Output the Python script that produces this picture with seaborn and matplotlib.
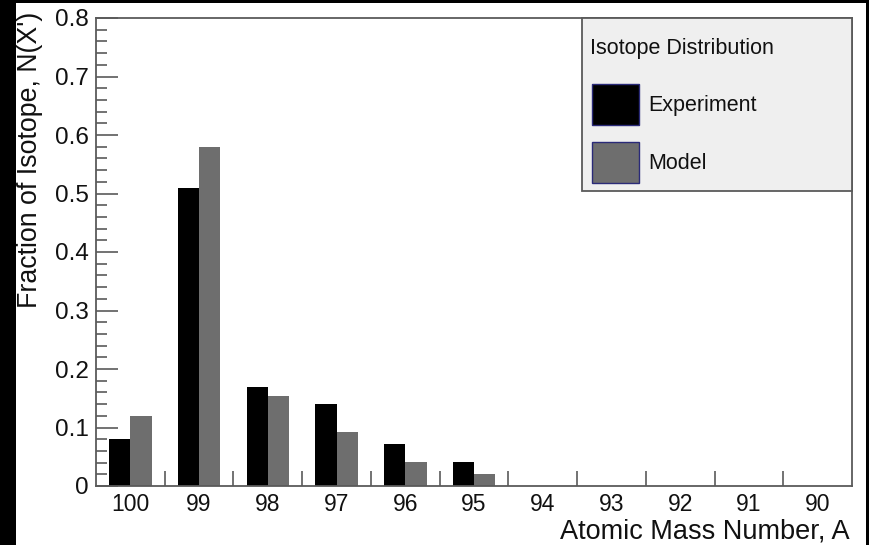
import matplotlib
matplotlib.use("Agg")
import matplotlib.pyplot as plt
import matplotlib.ticker as mticker
from matplotlib.patches import Patch, Rectangle
import seaborn as sns
import pandas as pd

# ---- data ----
mass_numbers = ["100", "99", "98", "97", "96", "95", "94", "93", "92", "91", "90"]
experiment = [0.08, 0.51, 0.17, 0.14, 0.072, 0.041, 0, 0, 0, 0, 0]
model = [0.12, 0.58, 0.153, 0.092, 0.041, 0.02, 0, 0, 0, 0, 0]
series_names = ["Experiment", "Model"]
y_ticks = [0, 0.1, 0.2, 0.3, 0.4, 0.5, 0.6, 0.7, 0.8]

df = pd.DataFrame({
    "A": mass_numbers * 2,
    "fraction": experiment + model,
    "series": [series_names[0]] * len(mass_numbers) + [series_names[1]] * len(mass_numbers),
})

sns.set_theme(style="white")
plt.rcParams["font.family"] = ["Liberation Sans", "DejaVu Sans"]

W, H = 869, 545
fig = plt.figure(figsize=(W / 100, H / 100), dpi=100)
fig.patch.set_facecolor("black")

def fx(x):
    return x / W

def fy(y):
    return 1 - y / H

# white canvas inside the black frame
fig.patches.append(Rectangle((fx(16), 0), fx(866) - fx(16), fy(3), transform=fig.transFigure,
                             facecolor="white", edgecolor="none", zorder=-10))

ax = fig.add_axes([fx(96), fy(486), fx(852) - fx(96), fy(18) - fy(486)])
ax.set_facecolor("white")

colors = {"Experiment": "#000000", "Model": "#6e6e6e"}
sns.barplot(data=df, x="A", y="fraction", hue="series", order=mass_numbers,
            hue_order=series_names, palette=colors, width=0.62, saturation=1,
            linewidth=0, ax=ax, legend=False)

ax.set_xlim(-0.5, len(mass_numbers) - 0.5)
ax.set_ylim(0, 0.8)
ax.set_xlabel("")
ax.set_ylabel("")

# spines
for s in ax.spines.values():
    s.set_color("#5a5a5a")
    s.set_linewidth(1.3)

# y ticks
ax.set_yticks(y_ticks)
ax.yaxis.set_major_formatter(mticker.FuncFormatter(lambda v, p: "0" if abs(v) < 1e-9 else f"{v:.1f}"))
ax.yaxis.set_minor_locator(mticker.MultipleLocator(0.02))
ax.tick_params(axis="y", which="major", direction="in", length=16, width=1.2, color="#5a5a5a",
               labelsize=17.5, pad=5, left=True, right=False)
ax.tick_params(axis="y", which="minor", direction="in", length=8, width=1.2, color="#5a5a5a",
               left=True, right=False)

# x ticks: labels at centers, small ticks between categories
ax.tick_params(axis="x", which="major", length=0, labelsize=16.5, pad=5, bottom=True)
ax.xaxis.set_minor_locator(mticker.FixedLocator([i + 0.5 for i in range(len(mass_numbers) - 1)]))
ax.tick_params(axis="x", which="minor", direction="in", length=11, width=1.2, color="#5a5a5a",
               bottom=True, top=False)
for t in ax.get_xticklabels() + ax.get_yticklabels():
    t.set_color("#111111")

# axis titles
fig.text(fx(850), fy(538), "Atomic Mass Number, A", ha="right", va="baseline",
         fontsize=19.5, color="#111111")
fig.text(fx(30), fy(12), "Fraction of Isotope, N(X')", ha="center", va="top",
         rotation=90, fontsize=19.3, color="#111111")

# legend box
fig.patches.append(Rectangle((fx(582), fy(191)), fx(852) - fx(582), fy(18) - fy(191),
                             transform=fig.transFigure, facecolor="#efefef",
                             edgecolor="#5a5a5a", linewidth=1.3, zorder=5))
fig.text(fx(590), fy(54), "Isotope Distribution", ha="left", va="baseline",
         fontsize=15.5, color="#111111", zorder=6)
handles = [Patch(facecolor=colors[n], edgecolor="#2a2a78", linewidth=1.0) for n in series_names]
leg = fig.legend(handles, series_names, loc="upper left",
                 bbox_to_anchor=(fx(592), fy(84)), bbox_transform=fig.transFigure,
                 frameon=False, fontsize=15.5, handlelength=2.2, handleheight=2.56,
                 labelspacing=0.8, handletextpad=0.42, borderpad=0, borderaxespad=0)
leg.set_zorder(7)
for t in leg.get_texts():
    t.set_color("#111111")

fig.savefig("out.png", dpi=100, facecolor=fig.get_facecolor())
